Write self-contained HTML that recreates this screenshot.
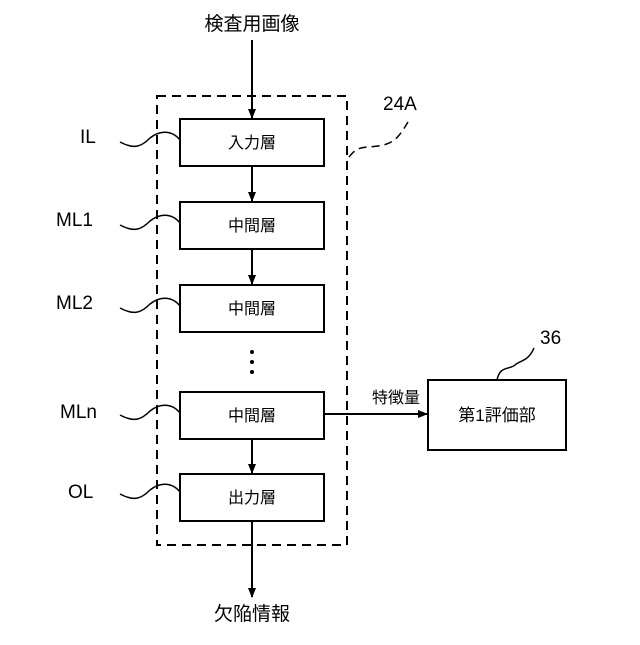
<!DOCTYPE html>
<html><head><meta charset="utf-8"><style>body{margin:0;background:#fff}</style></head><body>
<svg width="640" height="640" viewBox="0 0 640 640" xmlns="http://www.w3.org/2000/svg" font-family="'Liberation Sans','Noto Sans CJK JP',sans-serif">
<defs><marker id="a" markerWidth="10" markerHeight="10" refX="9" refY="5" orient="auto" markerUnits="userSpaceOnUse"><path d="M0,1 L10,5 L0,9z" fill="#000"/></marker></defs>
<g stroke="#000" stroke-width="2" fill="none">
<rect x="157" y="96" width="190" height="449" stroke-dasharray="9,6"/>
<rect x="180" y="119" width="144" height="47"/>
<rect x="180" y="202" width="144" height="47"/>
<rect x="180" y="285" width="144" height="47"/>
<rect x="180" y="392" width="144" height="47"/>
<rect x="180" y="474" width="144" height="47"/>
<rect x="428" y="380" width="138" height="70"/>
<line x1="252" y1="40" x2="252" y2="118" marker-end="url(#a)"/>
<line x1="252" y1="166" x2="252" y2="201" marker-end="url(#a)"/>
<line x1="252" y1="249" x2="252" y2="284" marker-end="url(#a)"/>
<line x1="252" y1="439" x2="252" y2="473" marker-end="url(#a)"/>
<line x1="252" y1="521" x2="252" y2="597" marker-end="url(#a)"/>
<line x1="324" y1="414" x2="427" y2="414" marker-end="url(#a)"/>
<g stroke-width="1.5">
<path d="M120,142 C135,150 142,146 150,138 C160,130 172,130 180,140"/>
<path d="M120,225 C135,233 142,229 150,221 C160,213 172,213 180,223"/>
<path d="M120,308 C135,316 142,312 150,304 C160,296 172,296 180,306"/>
<path d="M120,415 C135,423 142,419 150,411 C160,403 172,403 180,413"/>
<path d="M120,494 C135,502 142,498 150,490 C160,482 172,482 180,492"/>
<path d="M349,157 C358,145 365,148 378,146 C395,144 400,135 408,122" stroke-dasharray="8,5"/>
<path d="M497,380 C500,365 510,370 515,365 C520,360 528,362 534,348"/>
</g></g>
<g fill="#000">
<circle cx="252" cy="352" r="2"/><circle cx="252" cy="362" r="2"/><circle cx="252" cy="372" r="2"/>
</g>
<g font-size="16" text-anchor="middle">
<text x="252" y="148">入力層</text>
<text x="252" y="231">中間層</text>
<text x="252" y="314">中間層</text>
<text x="252" y="421">中間層</text>
<text x="252" y="503">出力層</text>
<text x="497" y="421" font-size="17">第1評価部</text>
<text x="396" y="403">特徴量</text>
<text x="252" y="30" font-size="19">検査用画像</text>
<text x="252" y="620" font-size="19">欠陥情報</text>
</g>
<g font-size="19">
<text x="80" y="143">IL</text>
<text x="56" y="226">ML1</text>
<text x="56" y="309">ML2</text>
<text x="60" y="418">MLn</text>
<text x="68" y="498">OL</text>
<text x="383" y="110">24A</text>
<text x="540" y="344">36</text>
</g>
</svg>
</body></html>
